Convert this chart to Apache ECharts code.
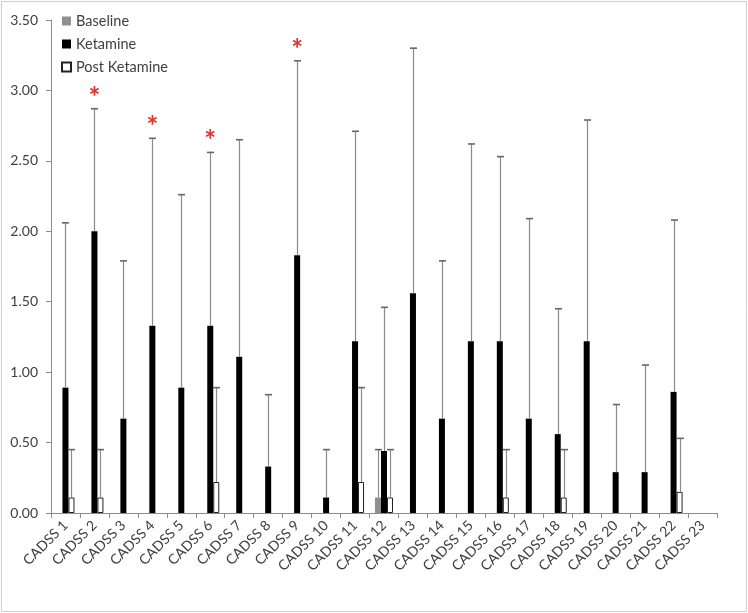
<!DOCTYPE html>
<html><head><meta charset="utf-8">
<script src="https://cdn.jsdelivr.net/npm/echarts/dist/echarts.min.js"></script>
<style>html,body{margin:0;padding:0;background:#fff}#c{width:748px;height:613px}</style>
</head><body><div id="c"></div><script>
const categories = ['CADSS 1','CADSS 2','CADSS 3','CADSS 4','CADSS 5','CADSS 6','CADSS 7','CADSS 8','CADSS 9','CADSS 10','CADSS 11','CADSS 12','CADSS 13','CADSS 14','CADSS 15','CADSS 16','CADSS 17','CADSS 18','CADSS 19','CADSS 20','CADSS 21','CADSS 22','CADSS 23'];
const baseline      = [0,0,0,0,0,0,0,0,0,0,0,0.11,0,0,0,0,0,0,0,0,0,0,0];
const baselineErr   = [null,null,null,null,null,null,null,null,null,null,null,0.45,null,null,null,null,null,null,null,null,null,null,null];
const ketamine      = [0.89,2.00,0.67,1.33,0.89,1.33,1.11,0.33,1.83,0.11,1.22,0.44,1.56,0.67,1.22,1.22,0.67,0.56,1.22,0.29,0.29,0.86,0];
const ketamineErr   = [2.06,2.87,1.79,2.66,2.26,2.56,2.65,0.84,3.21,0.45,2.71,1.46,3.30,1.79,2.62,2.53,2.09,1.45,2.79,0.77,1.05,2.08,null];
const postKetamine  = [0.11,0.11,0,0,0,0.22,0,0,0,0,0.22,0.11,0,0,0,0.11,0,0.11,0,0,0,0.15,0];
const postKetamineErr = [0.45,0.45,null,null,null,0.89,null,null,null,null,0.89,0.45,null,null,null,0.45,null,0.45,null,null,null,0.53,null];
const significant   = ['CADSS 2','CADSS 4','CADSS 6','CADSS 9'];
const yMin = 0, yMax = 3.5, yStep = 0.5;

const BAR_W = 6;
const FONT = 'Lato, "Open Sans", sans-serif';
const chart = echarts.init(document.getElementById('c'), null, {renderer: 'canvas'});

function barData(arr) { return arr.map(v => (v === 0 ? '-' : v)); }

function errSeries(name, vals, errs, slot) {
  const data = [];
  errs.forEach((e, i) => { if (e != null) data.push([i, vals[i], e]); });
  return {
    type: 'custom', name: name + ' error', data, z: 5, silent: true,
    encode: {x: 0, y: [1, 2]},
    renderItem(params, api) {
      const i = api.value(0);
      const lo = api.coord([i, api.value(1)]);
      const hi = api.coord([i, api.value(2)]);
      const x = Math.round(lo[0] + slot * BAR_W) + 0.5;
      const cap = 3.5;
      return {type: 'group', children: [
        {type: 'line', shape: {x1: x, y1: lo[1], x2: x, y2: hi[1]}, style: {stroke: '#8a8a8a', lineWidth: 1.2}},
        {type: 'line', shape: {x1: x - cap, y1: hi[1], x2: x + cap, y2: hi[1]}, style: {stroke: '#666', lineWidth: 1.6}}
      ]};
    }
  };
}

const starData = significant.map(c => { const i = categories.indexOf(c); return [i, ketamineErr[i]]; });

const option = {
  animation: false,
  backgroundColor: '#fff',
  graphic: [{type: 'rect', shape: {x: 1.5, y: 1.5, width: 745, height: 610}, style: {fill: 'none', stroke: '#cfcfcf', lineWidth: 1}, silent: true, z: -1}],
  grid: {left: 51, right: 31, top: 20, bottom: 100, containLabel: false},
  legend: {
    data: ['Baseline', 'Ketamine', 'Post Ketamine'],
    orient: 'vertical', left: 56, top: 8,
    itemWidth: 9, itemHeight: 9, itemGap: 7,
    icon: 'rect',
    textStyle: {fontFamily: FONT, fontSize: 14.5, color: '#404040', lineHeight: 16, padding: [0, 0, 0, 0]}
  },
  xAxis: {
    type: 'category', data: categories,
    axisLine: {lineStyle: {color: '#8c8c8c', width: 1}},
    axisTick: {show: true, length: 5, alignWithLabel: false, lineStyle: {color: '#8c8c8c'}},
    axisLabel: {rotate: 45, interval: 0, margin: 10, fontFamily: FONT, fontSize: 14, color: '#404040'},
    splitLine: {show: false}
  },
  yAxis: {
    type: 'value', min: yMin, max: yMax, interval: yStep,
    axisLine: {show: true, lineStyle: {color: '#8c8c8c', width: 1}},
    axisTick: {show: true, length: 5, lineStyle: {color: '#8c8c8c'}},
    axisLabel: {formatter: v => v.toFixed(2), margin: 13, fontFamily: FONT, fontSize: 14, color: '#404040'},
    splitLine: {show: false}
  },
  series: [
    {name: 'Baseline', type: 'bar', data: barData(baseline), barWidth: BAR_W, barGap: '0%',
     itemStyle: {color: '#8f8f8f'}},
    {name: 'Ketamine', type: 'bar', data: barData(ketamine), barWidth: BAR_W, barGap: '0%',
     itemStyle: {color: '#000'}},
    {name: 'Post Ketamine', type: 'bar', data: barData(postKetamine), barWidth: BAR_W, barGap: '0%',
     itemStyle: {color: '#fff', borderColor: '#222', borderWidth: 1}},
    errSeries('Baseline', baseline, baselineErr, -1),
    errSeries('Ketamine', ketamine, ketamineErr, 0),
    errSeries('Post Ketamine', postKetamine, postKetamineErr, 1),
    {
      type: 'custom', name: 'significance', data: starData, z: 6, silent: true,
      encode: {x: 0, y: 1},
      renderItem(params, api) {
        const p = api.coord([api.value(0), api.value(1)]);
        return {type: 'text', x: p[0], y: p[1] - 11,
          style: {text: '*', fill: '#e3312b', font: 'bold 28px ' + FONT, align: 'center', verticalAlign: 'middle'}};
      }
    }
  ]
};
chart.setOption(option);
</script></body></html>
